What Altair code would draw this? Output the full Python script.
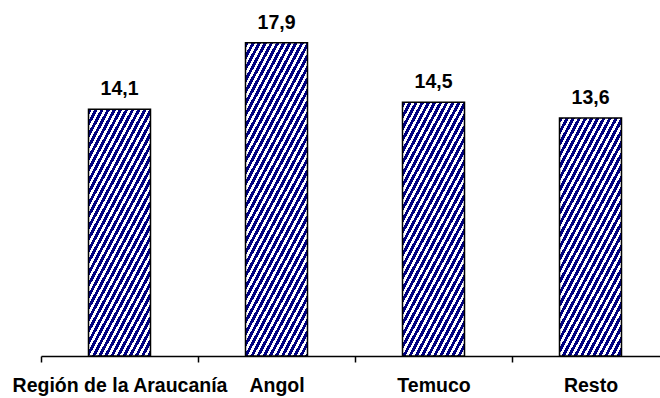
import math

import altair as alt
import pandas as pd

# Chart data
categories = ["Región de la Araucanía", "Angol", "Temuco", "Resto"]
values = [14.1, 17.9, 14.5, 13.6]

df = pd.DataFrame({"zona": categories, "valor": values})

# Layout / style constants
Y_MAX = 20
PLOT_W = 619
PLOT_H = 350
RANGE_W = 628          # band range runs past the right edge of the canvas
BAR_W = 62
STRIPE = "#000080"
FONT = "Liberation Sans"
FONT_SIZE = 19.5
ANGLE = math.radians(62)   # hatch lines rise to the right
PERIOD = 5.4               # hatch period, measured across the lines
INK = 0.55                 # share of each period painted blue


def hatch(value):
    """Diagonal hatch as a linear gradient in bounding-box units.

    The gradient vector is scaled per bar so that the stripes keep the same
    angle and spacing whatever the bar's height is.
    """
    h = value / Y_MAX * PLOT_H
    w = BAR_W
    sn, cs = math.sin(ANGLE), math.cos(ANGLE)
    s_max = w * sn + h * cs
    k = s_max / ((w * sn) ** 2 + (h * cs) ** 2)
    stops = []
    i = 0
    while i * PERIOD < s_max:
        o0 = i * PERIOD / s_max
        o1 = min((i + INK) * PERIOD / s_max, 1.0)
        o2 = min((i + 1) * PERIOD / s_max, 1.0)
        stops += [
            alt.GradientStop(offset=o0, color=STRIPE),
            alt.GradientStop(offset=o1, color=STRIPE),
            alt.GradientStop(offset=o1, color="white"),
            alt.GradientStop(offset=o2, color="white"),
        ]
        i += 1
    return alt.LinearGradient(
        gradient="linear", stops=stops,
        x1=0, y1=0, x2=k * w * sn, y2=k * h * cs,
    )


# Bands fill the whole step, so "extent" ticks fall between categories;
# the bars themselves are drawn narrower and centred in each band.
x_enc = alt.X(
    "zona:N",
    sort=categories,
    scale=alt.Scale(
        domain=categories, range=[0, RANGE_W],
        paddingInner=0, paddingOuter=0,
    ),
    axis=alt.Axis(
        title=None, labelAngle=0, tickBand="extent", ticks=True,
        domainColor="black", domainWidth=1.5,
        tickColor="black", tickWidth=1.5, tickSize=6, tickOpacity=1,
        labelFont=FONT, labelFontSize=FONT_SIZE, labelFontWeight="bold",
        labelColor="black", labelPadding=14,
        labelOverlap=False, labelLimit=0, grid=False,
    ),
)
y_enc = alt.Y(
    "valor:Q",
    scale=alt.Scale(domain=[0, Y_MAX], nice=False),
    axis=None,
)

base = alt.Chart(df)

bars = [
    base.transform_filter(alt.datum.zona == cat)
    .mark_bar(fill=hatch(val), stroke="black", strokeWidth=1.5, width=BAR_W)
    .encode(x=x_enc, y=y_enc)
    for cat, val in zip(categories, values)
]

labels = (
    base.transform_calculate(
        etiqueta="replace(format(datum.valor, '.1f'), '.', ',')"
    )
    .mark_text(
        dy=-14, baseline="alphabetic", font=FONT,
        fontSize=FONT_SIZE, fontWeight="bold", color="black",
    )
    .encode(x=x_enc, y=y_enc, text="etiqueta:N")
)

chart = (
    alt.layer(*bars, labels)
    .properties(
        width=PLOT_W, height=PLOT_H,
        autosize=alt.AutoSizeParams(type="none"),
        padding={"left": 41, "top": 6, "right": 0, "bottom": 42},
        background="white",
    )
    .configure_view(stroke=None)
)

chart.save("out.html", embed_options={"renderer": "svg", "actions": False})
